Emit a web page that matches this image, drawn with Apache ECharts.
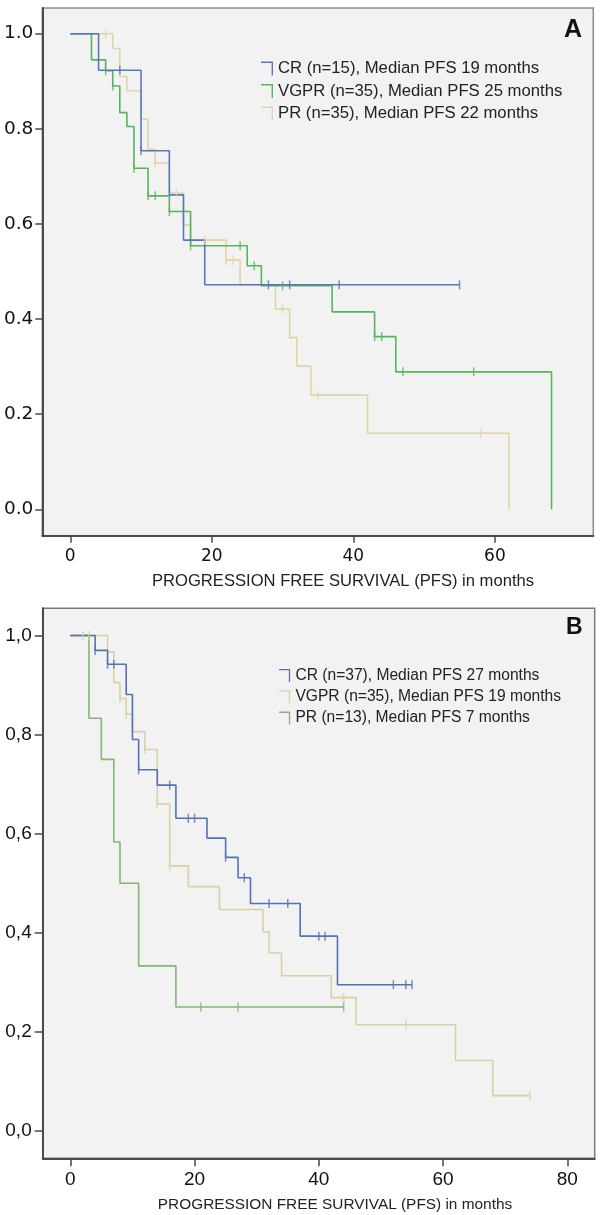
<!DOCTYPE html>
<html>
<head>
<meta charset="utf-8">
<script src="https://cdn.jsdelivr.net/npm/echarts@6/dist/echarts.min.js"></script>
<style>
html,body{margin:0;padding:0;background:#fff;}
#chart{width:600px;height:1215px;}
</style>
</head>
<body>
<div id="chart"></div>
<script>
// ---------- Panel A data ----------
const aNames = ['CR (n=15), Median PFS 19 months', 'VGPR (n=35), Median PFS 25 months', 'PR (n=35), Median PFS 22 months'];
const aCR_t   = [0, 4, 10, 14, 16, 19, 55];
const aCR_s   = [1, 0.923, 0.754, 0.661, 0.566, 0.472, 0.472];
const aCR_c   = [7, 10, 28, 31, 38, 55];
const aVGPR_t = [0, 3, 5, 6, 7, 8, 9, 11, 14, 17, 25, 27, 37, 43, 46, 68];
const aVGPR_s = [1, 0.945, 0.922, 0.890, 0.834, 0.805, 0.717, 0.659, 0.626, 0.554, 0.512, 0.470, 0.415, 0.363, 0.289, 0];
const aVGPR_c = [5, 6, 9, 11, 12, 14, 17, 24, 26, 30, 43, 44, 47, 57];
const aPR_t   = [0, 6, 7, 8, 10, 11, 12, 14, 16, 17, 22, 24, 29, 31, 32, 34, 42, 62];
const aPR_s   = [1, 0.969, 0.910, 0.880, 0.820, 0.757, 0.728, 0.665, 0.598, 0.566, 0.524, 0.472, 0.421, 0.361, 0.301, 0.240, 0.160, 0];
const aPR_c   = [5, 12, 15, 19, 22, 23, 30, 35, 58];
const aXTicks = [0, 20, 40, 60];
const aYTicks = [0, 0.2, 0.4, 0.6, 0.8, 1.0];

// ---------- Panel B data ----------
const bNames = ['CR (n=37), Median PFS 27 months', 'VGPR (n=35), Median PFS 19 months', 'PR (n=13), Median PFS 7 months'];
const bCR_t   = [0, 4, 6, 9, 10, 11, 14, 17, 22, 25, 27, 29, 37, 43, 55];
const bCR_s   = [1, 0.970, 0.942, 0.881, 0.790, 0.729, 0.698, 0.631, 0.591, 0.552, 0.511, 0.459, 0.393, 0.295, 0.295];
const bCR_c   = [4, 6, 7, 11, 16, 19, 20, 25, 28, 32, 35, 40, 41, 52, 54, 55];
const bVGPR_t = [0, 6, 7, 8, 9, 10, 12, 14, 16, 19, 24, 31, 32, 34, 42, 46, 62, 68, 74];
const bVGPR_s = [1, 0.967, 0.905, 0.873, 0.841, 0.806, 0.770, 0.660, 0.535, 0.493, 0.447, 0.402, 0.359, 0.313, 0.269, 0.214, 0.142, 0.071, 0.071];
const bVGPR_c = [2, 3, 8, 9, 12, 14, 16, 44, 54, 74];
const bPR_t   = [0, 3, 5, 7, 8, 11, 17, 44];
const bPR_s   = [1, 0.833, 0.750, 0.583, 0.500, 0.333, 0.250, 0.250];
const bPR_c   = [21, 27, 44];
const bXTicks = [0, 20, 40, 60, 80];
const bYTicks = [0, 0.2, 0.4, 0.6, 0.8, 1.0];

// ---------- helpers ----------
function survAt(t, times, surv) {
  let s = surv[0];
  for (let i = 0; i < times.length; i++) if (times[i] <= t) s = surv[i];
  return s;
}
function curve(name, times, surv, color, idx) {
  return {
    name: name, type: 'line', step: 'end', xAxisIndex: idx, yAxisIndex: idx,
    data: times.map((t, i) => [t, surv[i]]),
    symbol: 'none', color: color,
    lineStyle: { color: color, width: 1.6 },
    silent: true, animation: false
  };
}
function censor(times, surv, cens, color, idx) {
  return {
    type: 'scatter', xAxisIndex: idx, yAxisIndex: idx,
    data: cens.map(t => [t, survAt(t, times, surv)]),
    symbol: 'rect', symbolSize: [1.5, 9],
    itemStyle: { color: color }, silent: true, animation: false, z: 3
  };
}
const legendIcon = 'path://M0,0H12V14H10.6V1.4H0Z';

const aCol = { cr: '#5877bb', vgpr: '#55b55b', pr: '#e2d4a6' };
const bCol = { cr: '#5272b5', vgpr: '#dccfa3', pr: '#7fb773' };

const axisDark = '#4a4a4a';

function xAxisCfg(idx, min, max, ticks, font, size, margin, tickLen) {
  return {
    type: 'value', gridIndex: idx, min: min, max: max, position: 'bottom',
    axisLine: { show: true, onZero: false, lineStyle: { color: axisDark, width: 2 } },
    axisTick: { show: true, length: tickLen, customValues: ticks, lineStyle: { color: axisDark, width: 1.5 } },
    axisLabel: { customValues: ticks, margin: margin, color: '#111', fontFamily: font, fontSize: size },
    splitLine: { show: false }
  };
}
function yAxisCfg(idx, min, max, ticks, font, size, margin, tickLen, fmt) {
  return {
    type: 'value', gridIndex: idx, min: min, max: max,
    axisLine: { show: true, onZero: false, lineStyle: { color: axisDark, width: 2 } },
    axisTick: { show: true, length: tickLen, customValues: ticks, lineStyle: { color: axisDark, width: 1.5 } },
    axisLabel: { customValues: ticks, margin: margin, color: '#111', fontFamily: font, fontSize: size, formatter: fmt },
    splitLine: { show: false }
  };
}

const chart = echarts.init(document.getElementById('chart'), null, { renderer: 'canvas' });
chart.setOption({
  animation: false,
  backgroundColor: '#ffffff',
  grid: [
    { left: 42.3, top: 8, width: 551, height: 527.7, show: true, backgroundColor: '#f2f2f2', borderColor: '#8c8c8c', borderWidth: 1.5 },
    { left: 42.7, top: 608.3, width: 552, height: 550, show: true, backgroundColor: '#f2f2f2', borderColor: '#7a7a7a', borderWidth: 1.5 }
  ],
  xAxis: [
    xAxisCfg(0, -3.95, 73.9, aXTicks, 'DejaVu Sans', 17, 12, 7),
    xAxisCfg(1, -4.44, 84.4, bXTicks, 'Liberation Sans', 19, 12, 8)
  ],
  yAxis: [
    yAxisCfg(0, -0.0555, 1.054, aYTicks, 'DejaVu Sans', 18.5, 9, 7, v => v.toFixed(1)),
    yAxisCfg(1, -0.0555, 1.055, bYTicks, 'Liberation Sans', 19, 11, 8, v => v.toFixed(1).replace('.', ','))
  ],
  legend: [
    {
      data: aNames, orient: 'vertical', left: 256, top: 55,
      itemWidth: 12, itemHeight: 14, itemGap: 5.5, icon: legendIcon,
      textStyle: { fontFamily: 'Liberation Sans', fontSize: 16.7, color: '#222', lineHeight: 14 },
      selectedMode: false
    },
    {
      data: bNames, orient: 'vertical', left: 274, top: 662.5,
      itemWidth: 11.7, itemHeight: 13, itemGap: 5.3, icon: legendIcon,
      textStyle: { fontFamily: 'Liberation Sans', fontSize: 15.6, color: '#222', lineHeight: 13 },
      selectedMode: false
    }
  ],
  graphic: [
    { type: 'text', left: 564, top: 18, style: { text: 'A', font: 'bold 25px "Liberation Sans"', fill: '#111' } },
    { type: 'text', left: 566, top: 616, style: { text: 'B', font: 'bold 23px "Liberation Sans"', fill: '#111' } },
    { type: 'text', x: 343, y: 581, style: { text: 'PROGRESSION FREE SURVIVAL (PFS) in months', font: '16.6px "Liberation Sans"', fill: '#222', align: 'center', verticalAlign: 'middle' } },
    { type: 'text', x: 335, y: 1205, style: { text: 'PROGRESSION FREE SURVIVAL (PFS) in months', font: '15.4px "Liberation Sans"', fill: '#222', align: 'center', verticalAlign: 'middle' } }
  ],
  series: [
    curve(aNames[2], aPR_t, aPR_s, aCol.pr, 0),
    curve(aNames[1], aVGPR_t, aVGPR_s, aCol.vgpr, 0),
    curve(aNames[0], aCR_t, aCR_s, aCol.cr, 0),
    censor(aPR_t, aPR_s, aPR_c, aCol.pr, 0),
    censor(aVGPR_t, aVGPR_s, aVGPR_c, aCol.vgpr, 0),
    censor(aCR_t, aCR_s, aCR_c, aCol.cr, 0),
    curve(bNames[1], bVGPR_t, bVGPR_s, bCol.vgpr, 1),
    curve(bNames[2], bPR_t, bPR_s, bCol.pr, 1),
    curve(bNames[0], bCR_t, bCR_s, bCol.cr, 1),
    censor(bVGPR_t, bVGPR_s, bVGPR_c, bCol.vgpr, 1),
    censor(bPR_t, bPR_s, bPR_c, bCol.pr, 1),
    censor(bCR_t, bCR_s, bCR_c, bCol.cr, 1)
  ]
});
</script>
</body>
</html>
